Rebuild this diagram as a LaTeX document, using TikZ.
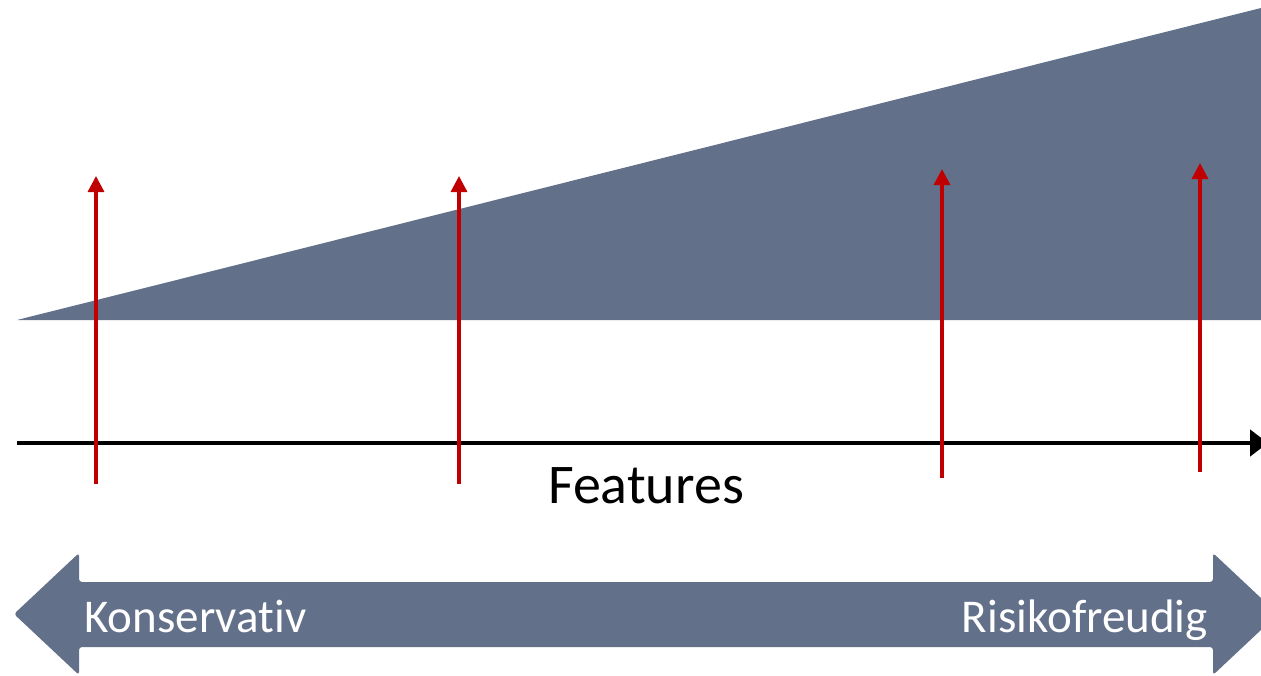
\documentclass[tikz,border=0pt]{standalone}
\usepackage{fontspec}
\setmainfont[Ligatures=NoCommon]{Carlito}
\usetikzlibrary{arrows.meta}
\definecolor{slate}{RGB}{98,112,138}
\definecolor{arrred}{RGB}{192,0,0}
\tikzset{
  redarrow/.style={draw=arrred,line width=3.2pt,-{Triangle[width=16pt,length=16pt]}},
  axisarrow/.style={draw=black,line width=4.5pt,-{Triangle[width=26pt,length=18pt]}},
  lbl/.style={inner sep=0pt,font=\fontsize{47}{50}\selectfont}
}
\begin{document}
\begin{tikzpicture}[x=1pt,y=-1pt]
\useasboundingbox (0,0) rectangle (1261,675);
\clip (0,0) rectangle (1261,675);
% wedge
\fill[slate] (17,320) -- (1261,8) -- (1261,320) -- cycle;
% axis
\coordinate (axL) at (17,443);
\coordinate (axR) at (1268,443);
\draw[axisarrow] (axL) -- (axR);
\node[inner sep=0pt,anchor=base,font=\fontsize{56}{60}\selectfont] (feat) at (646,503) {Features};
% red arrows
\coordinate (a1s) at (96,484);  \coordinate (a1e) at (96,176);
\coordinate (a2s) at (459,484); \coordinate (a2e) at (459,176);
\coordinate (a3s) at (942,478); \coordinate (a3e) at (942,169);
\coordinate (a4s) at (1200,472);\coordinate (a4e) at (1200,163);
\draw[redarrow] (a1s) -- (a1e);
\draw[redarrow] (a2s) -- (a2e);
\draw[redarrow] (a3s) -- (a3e);
\draw[redarrow] (a4s) -- (a4e);
% double arrow
\fill[slate,rounded corners=3pt] (14,614) -- (79,553) -- (79,582) -- (1213,582) -- (1213,553) -- (1278,614) -- (1213,675) -- (1213,647) -- (79,647) -- (79,675) -- cycle;
\node[lbl,text=white,anchor=base west] (kons) at (84,632) {Konservat\kern0pt iv};
\node[lbl,text=white,anchor=base east] (risk) at (1208,632) {Risikofreudig};
\end{tikzpicture}
\end{document}
